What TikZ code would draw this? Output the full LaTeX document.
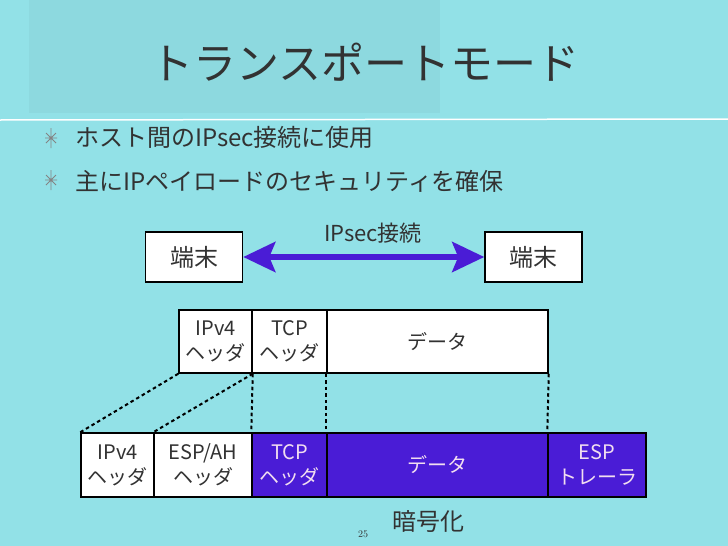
\documentclass[tikz,border=0pt]{standalone}
\usepackage{fontspec}
\newfontfamily\jfont{Noto Sans CJK JP}
\usetikzlibrary{arrows.meta}
\definecolor{slidebg}{RGB}{146,225,231}
\definecolor{titlebg}{RGB}{141,217,223}
\definecolor{encblue}{RGB}{74,28,214}
\definecolor{enctext}{RGB}{242,222,240}
\definecolor{ink}{RGB}{50,50,50}

\begin{document}
\begin{tikzpicture}[x=1pt,y=-1pt,
    cell/.style={draw=black,line width=1.5pt,fill=white,inner sep=0pt,align=center,
      text=ink,font=\jfont\fontsize{20}{25}\selectfont},
    enc/.style={cell,fill=encblue,text=enctext},
    host/.style={draw=black,line width=1.5pt,fill=white,minimum width=97pt,
      minimum height=50pt,text=ink,font=\jfont\fontsize{24}{28}\selectfont},
    guide/.style={line width=2pt,dash pattern=on 3.5pt off 3pt},
    blt/.style={anchor=west,inner sep=0pt,text=ink,font=\jfont\fontsize{24}{28}\selectfont}]
     \useasboundingbox (0,0) rectangle (728,546);
     \fill[slidebg] (0,0) rectangle (728,546);
     \fill[titlebg] (29,0) rectangle (440,113);
     \draw[white,line width=1.5pt] (0,120) -- (728,119);
     \node[text=ink,font=\jfont\fontsize{43}{50}\selectfont] (title) at (365,62) {トランスポートモード};
     \foreach \y in {138,180} {
       \draw[ink!60,line width=0.8pt] (51,\y-10) -- (51,\y+10)
         (45,\y) -- (57,\y) (46,\y-5) -- (56,\y+5) (46,\y+5) -- (56,\y-5);
     }
     \node[blt] (b1) at (75,137) {ホスト間のIPsec接続に使用};
     \node[blt] (b2) at (75,181) {主にIPペイロードのセキュリティを確保};
     \node[host] (termL) at (194,257) {端末};
     \node[host] (termR) at (533.5,257) {端末};
     \node[text=ink,font=\jfont\fontsize{22}{26}\selectfont] (conn) at (373,233) {IPsec接続};
     \draw[encblue,line width=6pt,
       {Stealth[length=32pt,width=30pt,inset=6pt]}-{Stealth[length=32pt,width=30pt,inset=6pt]}]
       (termL) -- (termR);
     \node[cell,minimum width=73pt,minimum height=63pt] (ip) at (215.5,341.5) {IPv4\\ヘッダ};
     \node[cell,minimum width=75pt,minimum height=63pt] (tcp) at (289.5,341.5) {TCP\\ヘッダ};
     \node[cell,minimum width=221pt,minimum height=63pt] (data) at (437.5,341.5) {データ};
     \node[cell,minimum width=73pt,minimum height=64pt] (eip) at (117.5,465) {IPv4\\ヘッダ};
     \node[cell,minimum width=98pt,minimum height=64pt] (esp) at (203,465) {ESP/AH\\ヘッダ};
     \node[enc,minimum width=75pt,minimum height=64pt] (etcp) at (289.5,465) {TCP\\ヘッダ};
     \node[enc,minimum width=221pt,minimum height=64pt] (edata) at (437.5,465) {データ};
     \node[enc,minimum width=98pt,minimum height=64pt] (etrl) at (597,465) {ESP\\トレーラ};
     \draw[guide] (ip.south west) -- (eip.north west);
     \draw[guide] (ip.south east) -- (esp.north west);
     \draw[guide] (ip.south east) -- (etcp.north west);
     \draw[guide] (data.south west) -- (edata.north west);
     \draw[guide] (data.south east) -- (etrl.north west);
     \node[text=ink,font=\jfont\fontsize{24}{28}\selectfont] (crypt) at (428,521) {暗号化};
     \node[text=ink,font=\fontsize{10}{12}\selectfont] (page) at (363,534) {25};
    \end{tikzpicture}
\end{document}
